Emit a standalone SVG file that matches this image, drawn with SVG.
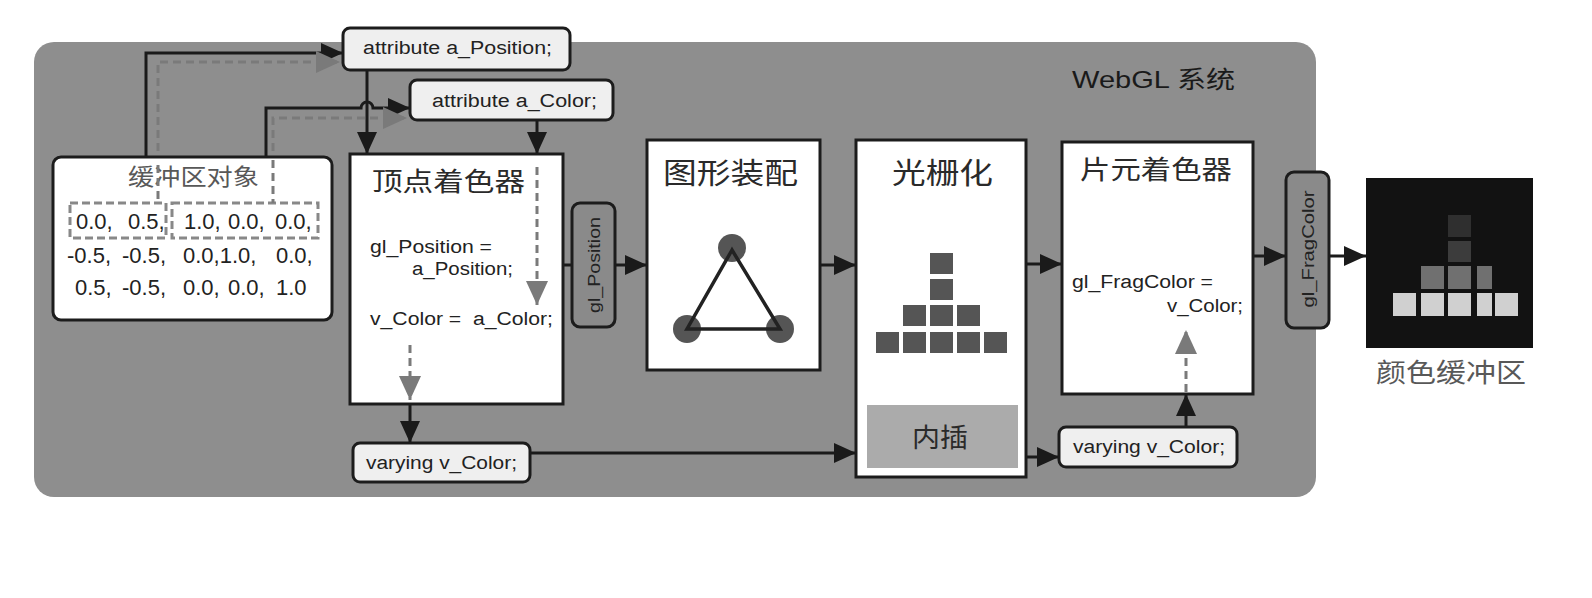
<svg xmlns="http://www.w3.org/2000/svg" width="1592" height="598" viewBox="0 0 1592 598">
<defs>
<style>
.bg{fill:#8e8e8e}
.box{fill:#ffffff;stroke:#1c1c1c;stroke-width:3}
.tag{fill:#efefef;stroke:#1c1c1c;stroke-width:3}
.vtag{fill:#8a8a8a;stroke:#1c1c1c;stroke-width:3}
.code{font-family:"Liberation Sans",Arial,sans-serif;fill:#222}
.cjk{font-family:"Liberation Sans","Noto Sans CJK SC",sans-serif;fill:#2a2a2a}
.soft{fill:#585858}
.ln{stroke:#1a1a1a;stroke-width:3;fill:none}
.dash{stroke:#7a7a7a;stroke-width:3;fill:none;stroke-dasharray:8 5}
.px{fill:#555}
</style>
<marker id="ab" markerUnits="userSpaceOnUse" markerWidth="22" markerHeight="20" refX="22" refY="10" orient="auto">
<path d="M0,0 L22,10 L0,20 z" fill="#1a1a1a"/>
</marker>
<marker id="ag" markerUnits="userSpaceOnUse" markerWidth="24" markerHeight="22" refX="24" refY="11" orient="auto">
<path d="M0,0 L24,11 L0,22 z" fill="#7a7a7a"/>
</marker>
</defs>

<rect id="webgl-system" class="bg" x="34" y="42" width="1282" height="455" rx="20"/>
<text class="cjk" x="1072" y="88" font-size="24" style="fill:#1a1a1a" textLength="163" lengthAdjust="spacingAndGlyphs">WebGL 系统</text>

<g id="connectors">
<path class="ln" d="M146,157 V53 H343" marker-end="url(#ab)"/>
<path class="dash" d="M158,203 V62 H340" marker-end="url(#ag)"/>
<path class="ln" d="M266,157 V108 H361 A6,6 0 0 1 373,108 H410" marker-end="url(#ab)"/>
<path class="dash" d="M273,203 V118 H407" marker-end="url(#ag)"/>
<path class="ln" d="M367,70 V154" marker-end="url(#ab)"/>
<path class="ln" d="M537,120 V154" marker-end="url(#ab)"/>
<path class="ln" d="M563,265 H572"/>
<path class="ln" d="M615,265 H647" marker-end="url(#ab)"/>
<path class="ln" d="M820,265 H856" marker-end="url(#ab)"/>
<path class="ln" d="M1026,264 H1062" marker-end="url(#ab)"/>
<path class="ln" d="M1253,256 H1286" marker-end="url(#ab)"/>
<path class="ln" d="M1329,256 H1366" marker-end="url(#ab)"/>
<path class="ln" d="M410,404 V443" marker-end="url(#ab)"/>
<path class="ln" d="M530,453 H856" marker-end="url(#ab)"/>
<path class="ln" d="M1018,457 H1059" marker-end="url(#ab)"/>
<path class="ln" d="M1186,427 V394" marker-end="url(#ab)"/>
</g>

<g id="buffer-object">
<rect class="box" x="53" y="157" width="279" height="163" rx="8"/>
<text class="cjk soft" x="128" y="185" font-size="23" textLength="131" lengthAdjust="spacingAndGlyphs">缓冲区对象</text>
<rect x="70" y="203" width="96" height="35" fill="none" stroke="#888" stroke-width="3" stroke-dasharray="8 4"/>
<rect x="172" y="203" width="146" height="35" fill="none" stroke="#888" stroke-width="3" stroke-dasharray="8 4"/>
<text class="code" font-size="22" y="229"><tspan x="76">0.0,</tspan><tspan x="128">0.5,</tspan><tspan x="184">1.0,</tspan><tspan x="228">0.0,</tspan><tspan x="275">0.0,</tspan></text>
<text class="code" font-size="22" y="263"><tspan x="67">-0.5,</tspan><tspan x="122">-0.5,</tspan><tspan x="183">0.0,1.0,</tspan><tspan x="276">0.0,</tspan></text>
<text class="code" font-size="22" y="295"><tspan x="75">0.5,</tspan><tspan x="122">-0.5,</tspan><tspan x="183">0.0,</tspan><tspan x="228">0.0,</tspan><tspan x="276">1.0</tspan></text>
</g>
<g id="buffer-dash-paths">
<path class="dash" d="M158,165 V203"/>
<path class="dash" d="M273,160 V203"/>
</g>

<g id="attr-position">
<rect class="tag" x="343" y="28" width="227" height="42" rx="7"/>
<text class="code" x="363" y="54" font-size="18" textLength="189" lengthAdjust="spacingAndGlyphs">attribute a_Position;</text>
</g>

<g id="attr-color">
<rect class="tag" x="410" y="80" width="203" height="40" rx="7"/>
<text class="code" x="432" y="107" font-size="18" textLength="165" lengthAdjust="spacingAndGlyphs">attribute a_Color;</text>
</g>

<g id="vertex-shader">
<rect class="box" x="350" y="154" width="213" height="250"/>
<text class="cjk" x="372" y="191" font-size="26" textLength="153" lengthAdjust="spacingAndGlyphs">顶点着色器</text>
<text class="code" x="370" y="253" font-size="18" textLength="122" lengthAdjust="spacingAndGlyphs">gl_Position =</text>
<text class="code" x="412" y="275" font-size="18" textLength="101" lengthAdjust="spacingAndGlyphs">a_Position;</text>
<text class="code" x="370" y="325" font-size="18" xml:space="preserve" textLength="183" lengthAdjust="spacingAndGlyphs">v_Color =  a_Color;</text>
<path class="dash" d="M537,167 V305" marker-end="url(#ag)"/>
<path class="dash" d="M410,345 V400" marker-end="url(#ag)"/>
</g>

<g id="gl-position">
<rect class="vtag" x="572" y="203" width="43" height="124" rx="8"/>
<text class="code" transform="translate(600,265) rotate(-90)" x="0" y="0" font-size="17" text-anchor="middle" textLength="96" lengthAdjust="spacingAndGlyphs">gl_Position</text>
</g>

<g id="primitive-assembly">
<rect class="box" x="647" y="140" width="173" height="230"/>
<text class="cjk" x="663" y="184" font-size="29" textLength="135" lengthAdjust="spacingAndGlyphs">图形装配</text>
<circle cx="732" cy="248" r="14" fill="#555"/>
<circle cx="687" cy="329" r="14" fill="#555"/>
<circle cx="780" cy="329" r="14" fill="#555"/>
<path d="M732,250 L687,329 L780,329 Z" fill="none" stroke="#222" stroke-width="3.5"/>
</g>

<g id="rasterization">
<rect class="box" x="856" y="140" width="170" height="337"/>
<text class="cjk" x="892" y="184" font-size="29" textLength="101" lengthAdjust="spacingAndGlyphs">光栅化</text>
<rect class="px" x="930" y="253" width="23" height="21"/>
<rect class="px" x="930" y="279" width="23" height="21"/>
<rect class="px" x="903" y="305" width="23" height="21"/>
<rect class="px" x="930" y="305" width="23" height="21"/>
<rect class="px" x="957" y="305" width="23" height="21"/>
<rect class="px" x="876" y="332" width="23" height="21"/>
<rect class="px" x="903" y="332" width="23" height="21"/>
<rect class="px" x="930" y="332" width="23" height="21"/>
<rect class="px" x="957" y="332" width="23" height="21"/>
<rect class="px" x="984" y="332" width="23" height="21"/>
<g id="interpolation">
<rect x="867" y="405" width="151" height="63" fill="#ababab"/>
<text class="cjk" x="912" y="447" font-size="26" textLength="56" lengthAdjust="spacingAndGlyphs">内插</text>
</g>
</g>

<g id="varying-left">
<rect class="tag" x="353" y="443" width="177" height="39" rx="7"/>
<text class="code" x="366" y="469" font-size="18" textLength="151" lengthAdjust="spacingAndGlyphs">varying v_Color;</text>
</g>

<g id="varying-right">
<rect class="tag" x="1059" y="427" width="178" height="40" rx="7"/>
<text class="code" x="1073" y="453" font-size="18" textLength="152" lengthAdjust="spacingAndGlyphs">varying v_Color;</text>
</g>

<g id="fragment-shader">
<rect class="box" x="1062" y="142" width="191" height="252"/>
<text class="cjk" x="1080" y="179" font-size="26" textLength="152" lengthAdjust="spacingAndGlyphs">片元着色器</text>
<text class="code" x="1072" y="288" font-size="18" textLength="141" lengthAdjust="spacingAndGlyphs">gl_FragColor =</text>
<text class="code" x="1167" y="312" font-size="18" textLength="76" lengthAdjust="spacingAndGlyphs">v_Color;</text>
<path class="dash" d="M1186,392 V330" marker-end="url(#ag)"/>
</g>

<g id="gl-fragcolor">
<rect class="vtag" x="1286" y="172" width="43" height="156" rx="8"/>
<text class="code" transform="translate(1314,249) rotate(-90)" x="0" y="0" font-size="17" text-anchor="middle" textLength="117" lengthAdjust="spacingAndGlyphs">gl_FragColor</text>
</g>

<g id="color-buffer">
<rect x="1366" y="178" width="167" height="170" fill="#121212"/>
<rect x="1448" y="215" width="23" height="22" fill="#2f2f2f"/>
<rect x="1448" y="241" width="23" height="21" fill="#3c3c3c"/>
<rect x="1421" y="266" width="23" height="23" fill="#707070"/>
<rect x="1448" y="266" width="23" height="23" fill="#707070"/>
<rect x="1477" y="266" width="15" height="23" fill="#707070"/>
<rect x="1393" y="293" width="23" height="23" fill="#d0d0d0"/>
<rect x="1421" y="293" width="23" height="23" fill="#d0d0d0"/>
<rect x="1448" y="293" width="23" height="23" fill="#d0d0d0"/>
<rect x="1477" y="293" width="15" height="23" fill="#d0d0d0"/>
<rect x="1495" y="293" width="23" height="23" fill="#d0d0d0"/>
<text class="cjk soft" x="1376" y="382" font-size="26" textLength="150" lengthAdjust="spacingAndGlyphs">颜色缓冲区</text>
</g>
</svg>
